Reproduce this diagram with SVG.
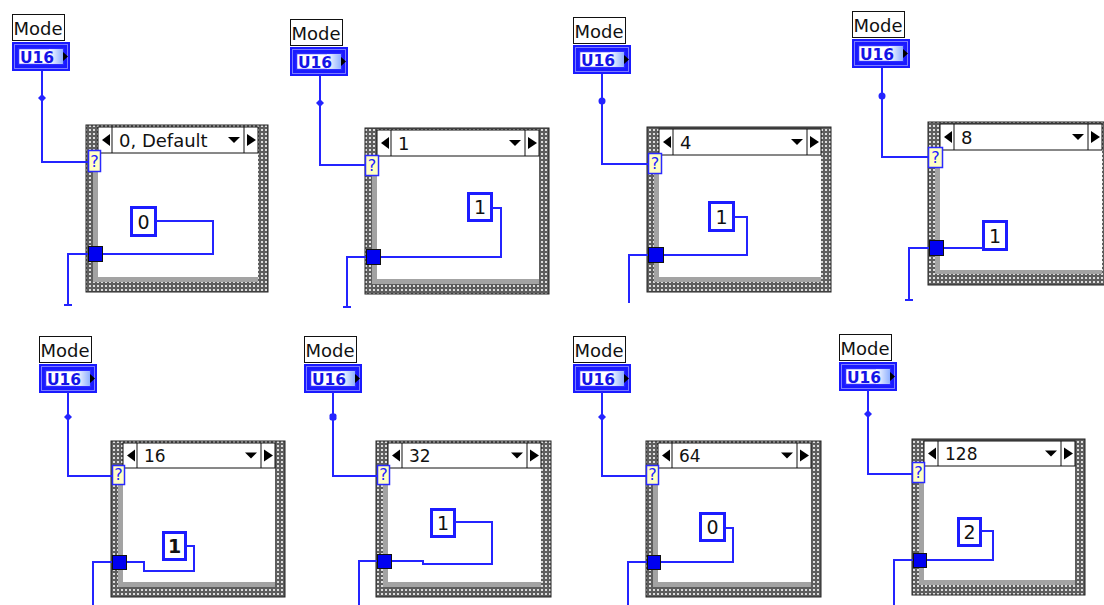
<svg xmlns="http://www.w3.org/2000/svg" xmlns:xlink="http://www.w3.org/1999/xlink" width="1104" height="605" viewBox="0 0 1104 605">
<style>
.frm{fill:url(#tex);stroke:#222;stroke-width:1}
.band{fill:#a3a3a3}
.in{fill:#fff}
.hdr{fill:#fff;stroke:#111;stroke-width:1}
.cl{stroke:#111;stroke-width:1}
.tri{fill:#000}
.ht{font-family:"DejaVu Sans",Verdana,sans-serif;font-size:18px;fill:#111}
.hb{font-size:17px}
.w{fill:none;stroke:#2424ff;stroke-width:2}
.jn{fill:#2424ff}
.q{fill:#ffffc4;stroke:#2a2aff;stroke-width:1.5}
.qt{font-family:"DejaVu Sans",sans-serif;font-size:16px;fill:#2020ff;text-anchor:middle}
.cst{fill:#fff;stroke:#1c1cff;stroke-width:3}
.ct{font-family:"DejaVu Sans",sans-serif;font-size:19px;fill:#111;text-anchor:middle}
.tun{fill:#0000f0;stroke:#111;stroke-width:1}
.ml{fill:#fff;stroke:#111;stroke-width:1}
.mt{font-family:"DejaVu Sans",Tahoma,sans-serif;font-size:18px;fill:#111}
.ut{font-family:"DejaVu Sans",sans-serif;font-weight:bold;font-size:15.5px;fill:#1414e6;text-anchor:middle}
</style>
<defs>
<pattern id="tex" width="4" height="4" patternUnits="userSpaceOnUse">
<rect width="4" height="4" fill="#5e5e5e"/>
<rect x="1" y="1" width="2" height="2" fill="#dcdcdc"/>
</pattern>
<linearGradient id="ug" x1="0" y1="0" x2="1" y2="0">
<stop offset="0" stop-color="#ffffff"/>
<stop offset="1" stop-color="#8fb0ff"/>
</linearGradient>
<g id="mode">
<rect class="ml" x="0.5" y="0.5" width="52" height="26"/>
<text class="mt" x="1.5" y="21">Mode</text>
<g transform="translate(0,28)">
<rect x="0" y="0" width="58" height="29" fill="#1a1aff"/>
<rect x="2.5" y="2.5" width="53" height="24" fill="none" stroke="#7c7cff" stroke-width="1"/>
<rect x="6.5" y="6.5" width="45" height="16" fill="#fff" stroke="#2b2bff" stroke-width="1.5"/>
<rect x="37" y="7.3" width="14" height="14.4" fill="url(#ug)"/>
<text class="ut" x="25" y="20.5">U16</text>
<polygon points="51,10 51,19 56,14.5" fill="#000"/>
</g>
</g>
</defs>
<rect width="1104" height="605" fill="#fff"/>

<!-- Block 1 -->
<g id="block1">
<g id="case1">
<rect class="frm" x="86" y="125" width="182" height="167"/>
<rect class="band" x="93" y="153" width="165" height="129"/>
<rect class="in" x="98" y="153" width="160" height="124"/>
<rect class="hdr" x="98" y="127" width="160" height="26"/>
<line class="cl" x1="112" y1="127" x2="112" y2="153"/>
<line class="cl" x1="244" y1="127" x2="244" y2="153"/>
<polygon class="tri" points="102,140 110,134 110,146"/>
<polygon class="tri" points="256,140 247,134 247,146"/>
<polygon class="tri" points="228,137 240,137 234,143"/>
<text class="ht" x="119" y="147">0, Default</text>
</g>
<g id="mode1"><use xlink:href="#mode" x="12" y="14"/></g>
<g id="const1"><rect class="cst" x="131.5" y="207.5" width="24" height="28"/><text class="ct" x="143.5" y="228.5">0</text></g>
</g>

<!-- Block 2 -->
<g id="block2">
<g id="case2">
<rect class="frm" x="365" y="128" width="184" height="166"/>
<rect class="band" x="372" y="156" width="167" height="128"/>
<rect class="in" x="377" y="156" width="162" height="123"/>
<rect class="hdr" x="377" y="130" width="162" height="26"/>
<line class="cl" x1="391" y1="130" x2="391" y2="156"/>
<line class="cl" x1="525" y1="130" x2="525" y2="156"/>
<polygon class="tri" points="381,143 389,137 389,149"/>
<polygon class="tri" points="537,143 528,137 528,149"/>
<polygon class="tri" points="509,140 521,140 515,146"/>
<text class="ht" x="398" y="150">1</text>
</g>
<g id="mode2"><use xlink:href="#mode" x="290" y="19"/></g>
<g id="const2"><rect class="cst" x="468.5" y="193.5" width="23" height="27"/><text class="ct" x="480" y="214">1</text></g>
</g>

<!-- Block 3 -->
<g id="block3">
<g id="case3">
<rect class="frm" x="647" y="127" width="184" height="165"/>
<rect class="band" x="654" y="155" width="167" height="127"/>
<rect class="in" x="659" y="155" width="162" height="122"/>
<rect class="hdr" x="659" y="129" width="162" height="26"/>
<line class="cl" x1="673" y1="129" x2="673" y2="155"/>
<line class="cl" x1="807" y1="129" x2="807" y2="155"/>
<polygon class="tri" points="663,142 671,136 671,148"/>
<polygon class="tri" points="819,142 810,136 810,148"/>
<polygon class="tri" points="791,139 803,139 797,145"/>
<text class="ht" x="680" y="149">4</text>
</g>
<g id="mode3"><use xlink:href="#mode" x="573" y="17"/></g>
<g id="const3"><rect class="cst" x="709.5" y="202.5" width="24" height="28"/><text class="ct" x="721.5" y="223.5">1</text></g>
</g>

<!-- Block 4 -->
<g id="block4">
<g id="case4">
<rect class="frm" x="928" y="122" width="184" height="163"/>
<rect class="band" x="935" y="150" width="167" height="124"/>
<rect class="in" x="940" y="150" width="162" height="120"/>
<rect class="hdr" x="940" y="124" width="162" height="26"/>
<line class="cl" x1="954" y1="124" x2="954" y2="150"/>
<line class="cl" x1="1088" y1="124" x2="1088" y2="150"/>
<polygon class="tri" points="944,137 952,131 952,143"/>
<polygon class="tri" points="1100,137 1091,131 1091,143"/>
<polygon class="tri" points="1072,134 1084,134 1078,140"/>
<text class="ht" x="961" y="144">8</text>
</g>
<g id="mode4"><use xlink:href="#mode" x="852" y="11"/></g>
<g id="const4"><rect class="cst" x="983.5" y="221.5" width="23" height="28"/><text class="ct" x="995" y="242.5">1</text></g>
</g>

<!-- Block 5 -->
<g id="block5">
<g id="case5">
<rect class="frm" x="111" y="441" width="174" height="156"/>
<rect class="band" x="118" y="468" width="157" height="119"/>
<rect class="in" x="123" y="468" width="152" height="114"/>
<rect class="hdr" x="123" y="443" width="152" height="25"/>
<line class="cl" x1="137" y1="443" x2="137" y2="468"/>
<line class="cl" x1="261" y1="443" x2="261" y2="468"/>
<polygon class="tri" points="127,455.5 135,449.5 135,461.5"/>
<polygon class="tri" points="273,455.5 264,449.5 264,461.5"/>
<polygon class="tri" points="245,452.5 257,452.5 251,458.5"/>
<text class="ht hb" x="144" y="462">16</text>
</g>
<g id="mode5"><use xlink:href="#mode" x="39" y="336"/></g>
<g id="const5"><rect class="cst" x="163.5" y="532.5" width="22" height="27"/><text class="ct" x="174.5" y="553" font-weight="bold">1</text></g>
</g>

<!-- Block 6 -->
<g id="block6">
<g id="case6">
<rect class="frm" x="376" y="441" width="175" height="156"/>
<rect class="band" x="383" y="468" width="158" height="119"/>
<rect class="in" x="388" y="468" width="153" height="114"/>
<rect class="hdr" x="388" y="443" width="153" height="25"/>
<line class="cl" x1="402" y1="443" x2="402" y2="468"/>
<line class="cl" x1="527" y1="443" x2="527" y2="468"/>
<polygon class="tri" points="392,455.5 400,449.5 400,461.5"/>
<polygon class="tri" points="539,455.5 530,449.5 530,461.5"/>
<polygon class="tri" points="511,452.5 523,452.5 517,458.5"/>
<text class="ht hb" x="409" y="462">32</text>
</g>
<g id="mode6"><use xlink:href="#mode" x="304" y="336"/></g>
<g id="const6"><rect class="cst" x="431.5" y="509.5" width="23" height="27"/><text class="ct" x="443" y="530">1</text></g>
</g>

<!-- Block 7 -->
<g id="block7">
<g id="case7">
<rect class="frm" x="646" y="441" width="175" height="156"/>
<rect class="band" x="653" y="468" width="158" height="119"/>
<rect class="in" x="658" y="468" width="153" height="114"/>
<rect class="hdr" x="658" y="443" width="153" height="25"/>
<line class="cl" x1="672" y1="443" x2="672" y2="468"/>
<line class="cl" x1="797" y1="443" x2="797" y2="468"/>
<polygon class="tri" points="662,455.5 670,449.5 670,461.5"/>
<polygon class="tri" points="809,455.5 800,449.5 800,461.5"/>
<polygon class="tri" points="781,452.5 793,452.5 787,458.5"/>
<text class="ht hb" x="679" y="462">64</text>
</g>
<g id="mode7"><use xlink:href="#mode" x="573" y="336"/></g>
<g id="const7"><rect class="cst" x="700.5" y="513.5" width="24" height="27"/><text class="ct" x="712.5" y="534">0</text></g>
</g>

<!-- Block 8 -->
<g id="block8">
<g id="case8">
<rect class="frm" x="912" y="439" width="173" height="156"/>
<rect class="band" x="919" y="466" width="156" height="119"/>
<rect class="in" x="924" y="466" width="151" height="114"/>
<rect class="hdr" x="924" y="441" width="151" height="25"/>
<line class="cl" x1="938" y1="441" x2="938" y2="466"/>
<line class="cl" x1="1061" y1="441" x2="1061" y2="466"/>
<polygon class="tri" points="928,453.5 936,447.5 936,459.5"/>
<polygon class="tri" points="1073,453.5 1064,447.5 1064,459.5"/>
<polygon class="tri" points="1045,450.5 1057,450.5 1051,456.5"/>
<text class="ht hb" x="945" y="460">128</text>
</g>
<g id="mode8"><use xlink:href="#mode" x="839" y="334"/></g>
<g id="const8"><rect class="cst" x="958.5" y="518.5" width="22" height="27"/><text class="ct" x="969.5" y="539">2</text></g>
</g>

<!-- Connectors -->
<g id="wires">
<path class="w" d="M42,71 V162 H89"/>
<path class="w" d="M156,221 H213 V254 H102"/>
<path class="w" d="M89,254 H68 V305 M64,305 H72"/>
<path class="w" d="M320,76 V165 H366"/>
<path class="w" d="M492,208 H501 V257 H380"/>
<path class="w" d="M367,257 H347 V307 M343,307 H351"/>
<path class="w" d="M602,74 V164 H649"/>
<path class="w" d="M734,217 H747 V255 H663"/>
<path class="w" d="M649,255 H629 V303"/>
<path class="w" d="M882,68 V157 H929"/>
<path class="w" d="M943,248 H983"/>
<path class="w" d="M930,248 H909 V300 M905,300 H913"/>
<path class="w" d="M68,392 V476 H113"/>
<path class="w" d="M186,546 H194 V571 H144 V562 H126"/>
<path class="w" d="M113,562 H93 V605"/>
<path class="w" d="M333,392 V476 H378"/>
<path class="w" d="M455,522 H492 V564 H423 V561 H391"/>
<path class="w" d="M378,561 H359 V605"/>
<path class="w" d="M602,392 V476 H647"/>
<path class="w" d="M725,528 H733 V562 H660"/>
<path class="w" d="M648,562 H628 V605"/>
<path class="w" d="M868,390 V474 H913"/>
<path class="w" d="M981,531 H993 V560 H926"/>
<path class="w" d="M914,560 H894 V605"/>
<polygon class="jn" points="42,94 46,98 42,102 38,98"/>
<polygon class="jn" points="320,99 324,103 320,107 316,103"/>
<circle class="jn" cx="602" cy="101" r="3.5"/>
<circle class="jn" cx="882" cy="96" r="3.5"/>
<polygon class="jn" points="68,413 72,417 68,421 64,417"/>
<rect class="jn" x="329.5" y="413.5" width="7" height="7" rx="2"/>
<polygon class="jn" points="602,413 606,417 602,421 598,417"/>
<polygon class="jn" points="868,410 872,414 868,418 864,414"/>
</g>

<!-- Terminals -->
<g id="terminals">
<rect class="q" x="88.5" y="150.5" width="12" height="21"/><text class="qt" x="94.5" y="167">?</text>
<rect class="tun" x="88.5" y="246.5" width="14" height="15"/>
<rect class="q" x="365.5" y="155.5" width="13" height="20"/><text class="qt" x="372" y="171">?</text>
<rect class="tun" x="366.5" y="249.5" width="14" height="15"/>
<rect class="q" x="648.5" y="153.5" width="13" height="20"/><text class="qt" x="655" y="169">?</text>
<rect class="tun" x="648.5" y="247.5" width="15" height="15"/>
<rect class="q" x="928.5" y="147.5" width="14" height="20"/><text class="qt" x="935.5" y="163">?</text>
<rect class="tun" x="929.5" y="240.5" width="14" height="15"/>
<rect class="q" x="112.5" y="465.5" width="12" height="19"/><text class="qt" x="118.5" y="480">?</text>
<rect class="tun" x="112.5" y="555.5" width="14" height="14"/>
<rect class="q" x="377.5" y="465.5" width="12" height="19"/><text class="qt" x="383.5" y="480">?</text>
<rect class="tun" x="377.5" y="554.5" width="14" height="14"/>
<rect class="q" x="646.5" y="465.5" width="12" height="19"/><text class="qt" x="652.5" y="480">?</text>
<rect class="tun" x="647.5" y="555.5" width="13" height="14"/>
<rect class="q" x="912.5" y="462.5" width="12" height="20"/><text class="qt" x="918.5" y="478">?</text>
<rect class="tun" x="913.5" y="553.5" width="13" height="14"/>
</g>
</svg>
